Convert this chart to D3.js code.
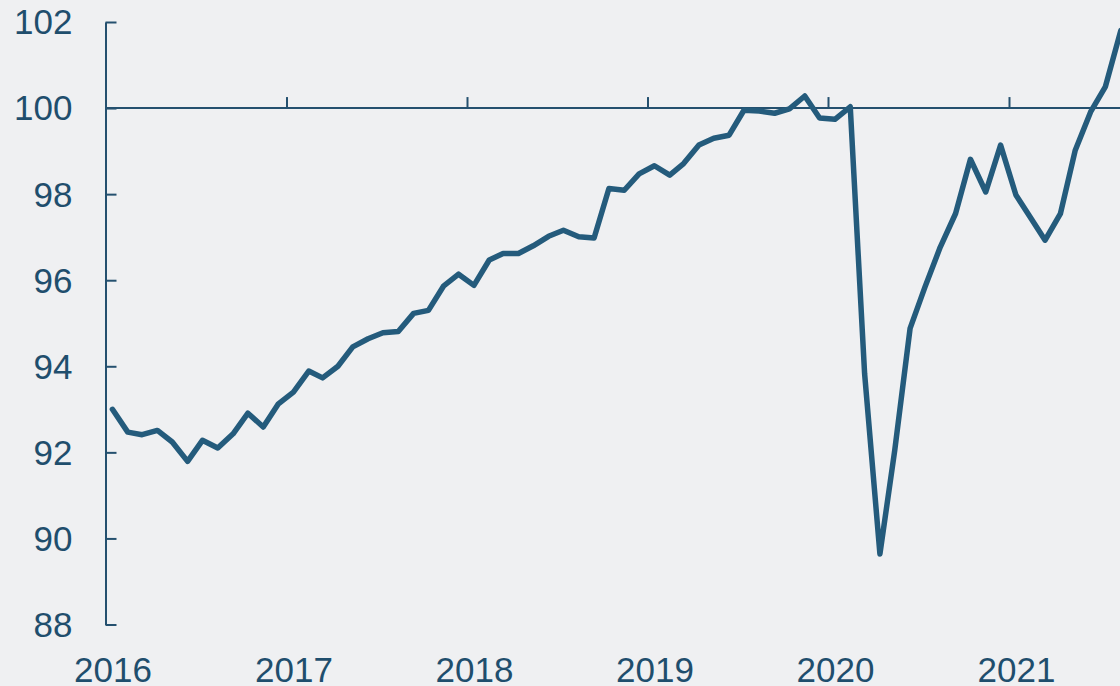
<!DOCTYPE html>
<html>
<head>
<meta charset="utf-8">
<script src="https://cdn.jsdelivr.net/npm/d3@7"></script>
<style>
  html, body { margin: 0; padding: 0; background: #eff0f2; }
  #chart svg { display: block; font-family: "Liberation Sans", Arial, sans-serif; }
</style>
</head>
<body>
<div id="chart"></div>
<script>
// monthly index, Jan 2016 .. Aug 2021
const values = [
  93.0, 92.47, 92.41, 92.51, 92.24, 91.79, 92.28, 92.1, 92.43, 92.91, 92.59, 93.12,
  93.40, 93.89, 93.73, 94.0, 94.45, 94.64, 94.78, 94.81, 95.23, 95.30, 95.87, 96.14,
  95.88, 96.47, 96.62, 96.62, 96.80, 97.02, 97.16, 97.01, 96.98, 98.13, 98.09, 98.47,
  98.66, 98.44, 98.71, 99.14, 99.30, 99.37, 99.95, 99.93, 99.88, 99.98, 100.28, 99.77,
  99.74, 100.03, 93.83, 89.64, 92.05, 94.88, 95.84, 96.77, 97.55, 98.81, 98.05, 99.14,
  97.98, 97.43, 96.93, 97.55, 99.02, 99.91, 100.50, 101.8
];
const years = [2016, 2017, 2018, 2019, 2020, 2021];
const yTicks = [88, 90, 92, 94, 96, 98, 100, 102];
const baseline = 100;

(function indexChart(){
  let width = 1120, height = 686;
  const lineColor = "#245b7c", axisColor = "#24506f", textColor = "#1f4e6d";

  const svg = d3.select("#chart")
    .append("svg")
    .attr("width", width)
    .attr("height", height)
    .attr("viewBox", [0, 0, width, height]);

  svg.append("rect").attr("width", width).attr("height", height).attr("fill", "#eff0f2");

  // points sit mid-month
  const data = values.map((v, i) => ({ date: new Date(2016, i, 15), value: v }));

  const x = d3.scaleTime()
    .domain([new Date(2016, 0, 1), new Date(2021, 0, 1)])
    .range([105.5, 1009]);

  const y = d3.scaleLinear()
    .domain([88, 102])
    .range([624.5, 22]);

  // y axis, ticks pointing inward
  const yAxis = svg.append("g")
    .attr("transform", "translate(105.5,0)")
    .call(d3.axisLeft(y).tickValues(yTicks).tickSizeInner(-11).tickSizeOuter(0).tickPadding(33));
  yAxis.select(".domain").attr("stroke", axisColor).attr("stroke-width", 2);
  yAxis.selectAll(".tick line").attr("stroke", axisColor).attr("stroke-width", 2);
  yAxis.selectAll(".tick text")
    .attr("fill", textColor)
    .style("font-size", "35px")
    .attr("dy", "0.34em");

  // reference line at 100
  svg.append("line")
    .attr("x1", 105.5).attr("x2", width)
    .attr("y1", y(baseline)).attr("y2", y(baseline))
    .attr("stroke", axisColor).attr("stroke-width", 2);

  // year ticks on the 100 line
  const xTickAxis = svg.append("g")
    .attr("transform", `translate(0,${y(baseline)})`)
    .call(d3.axisTop(x).tickValues(years.map(yr => new Date(yr, 0, 1))).tickSize(11).tickFormat(""));
  xTickAxis.select(".domain").remove();
  xTickAxis.selectAll(".tick line").attr("stroke", axisColor).attr("stroke-width", 2);

  // year labels along the bottom
  const xLabels = svg.append("g")
    .attr("transform", `translate(0,${y(88)})`)
    .call(d3.axisBottom(x).tickValues(years.map(yr => new Date(yr, 0, 15))).tickSize(0).tickPadding(32.5)
      .tickFormat(d3.timeFormat("%Y")));
  xLabels.select(".domain").remove();
  xLabels.selectAll(".tick text").attr("fill", textColor).style("font-size", "35px");

  const line = d3.line()
    .x(d => x(d.date))
    .y(d => y(d.value));

  svg.append("path")
    .datum(data)
    .attr("fill", "none")
    .attr("stroke", lineColor)
    .attr("stroke-width", 5.5)
    .attr("stroke-linejoin", "round")
    .attr("stroke-linecap", "round")
    .attr("d", line);
})();
</script>
</body>
</html>
